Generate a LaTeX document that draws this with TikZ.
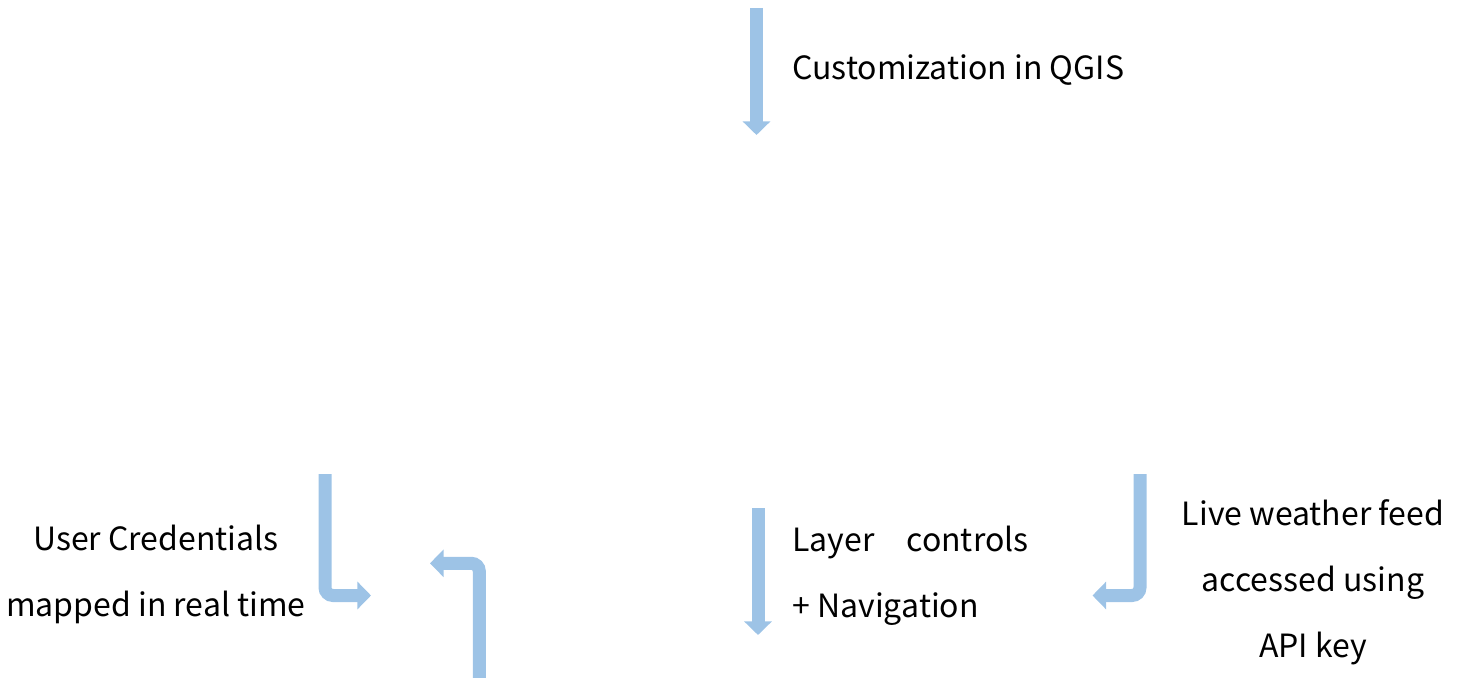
\documentclass[tikz,border=0pt]{standalone}
\usepackage{fontspec}
\setmainfont{Noto Sans CJK JP}
\usetikzlibrary{arrows.meta}
\definecolor{arrowblue}{HTML}{9DC3E6}
\tikzset{
  flow/.style={draw=arrowblue, line width=6.5pt, rounded corners=4pt,
    -{Triangle[width=13.5pt,length=6.8pt]}},
  lbl/.style={font=\fontsize{16}{33}\selectfont, text=black, inner sep=0pt}
}
\begin{document}
\begin{tikzpicture}[x=0.5pt,y=-0.5pt]
\useasboundingbox (0,0) rectangle (1466,678);
% coordinates
\coordinate (a1s) at (756.5,8);
\coordinate (a1e) at (756.5,135);
\coordinate (a2s) at (758,508);
\coordinate (a2e) at (758,635);
\coordinate (a3s) at (325,474);
\coordinate (a3e) at (371,595.5);
\coordinate (a4s) at (479.3,680);
\coordinate (a4e) at (430,563.3);
\coordinate (a5s) at (1140,474);
\coordinate (a5e) at (1092.5,595.5);
% arrows
\draw[flow] (a1s) -- (a1e);
\draw[flow] (a2s) -- (a2e);
\draw[flow] (a3s) |- (a3e);
\draw[flow] (a4s) |- (a4e);
\draw[flow] (a5s) |- (a5e);
% labels
\node[lbl, anchor=west] (qgis) at (792,70.5) {Customization in QGIS};
\node[lbl, anchor=west, align=left] (layer) at (792,575.5) {Layer\hspace{16pt}controls\\+ Navigation};
\node[lbl, align=center] (cred) at (156,574.5) {User Credentials\\mapped in real time};
\node[lbl, align=center] (live) at (1313,582.5) {Live weather feed\\accessed using\\API key};
\end{tikzpicture}
\end{document}
